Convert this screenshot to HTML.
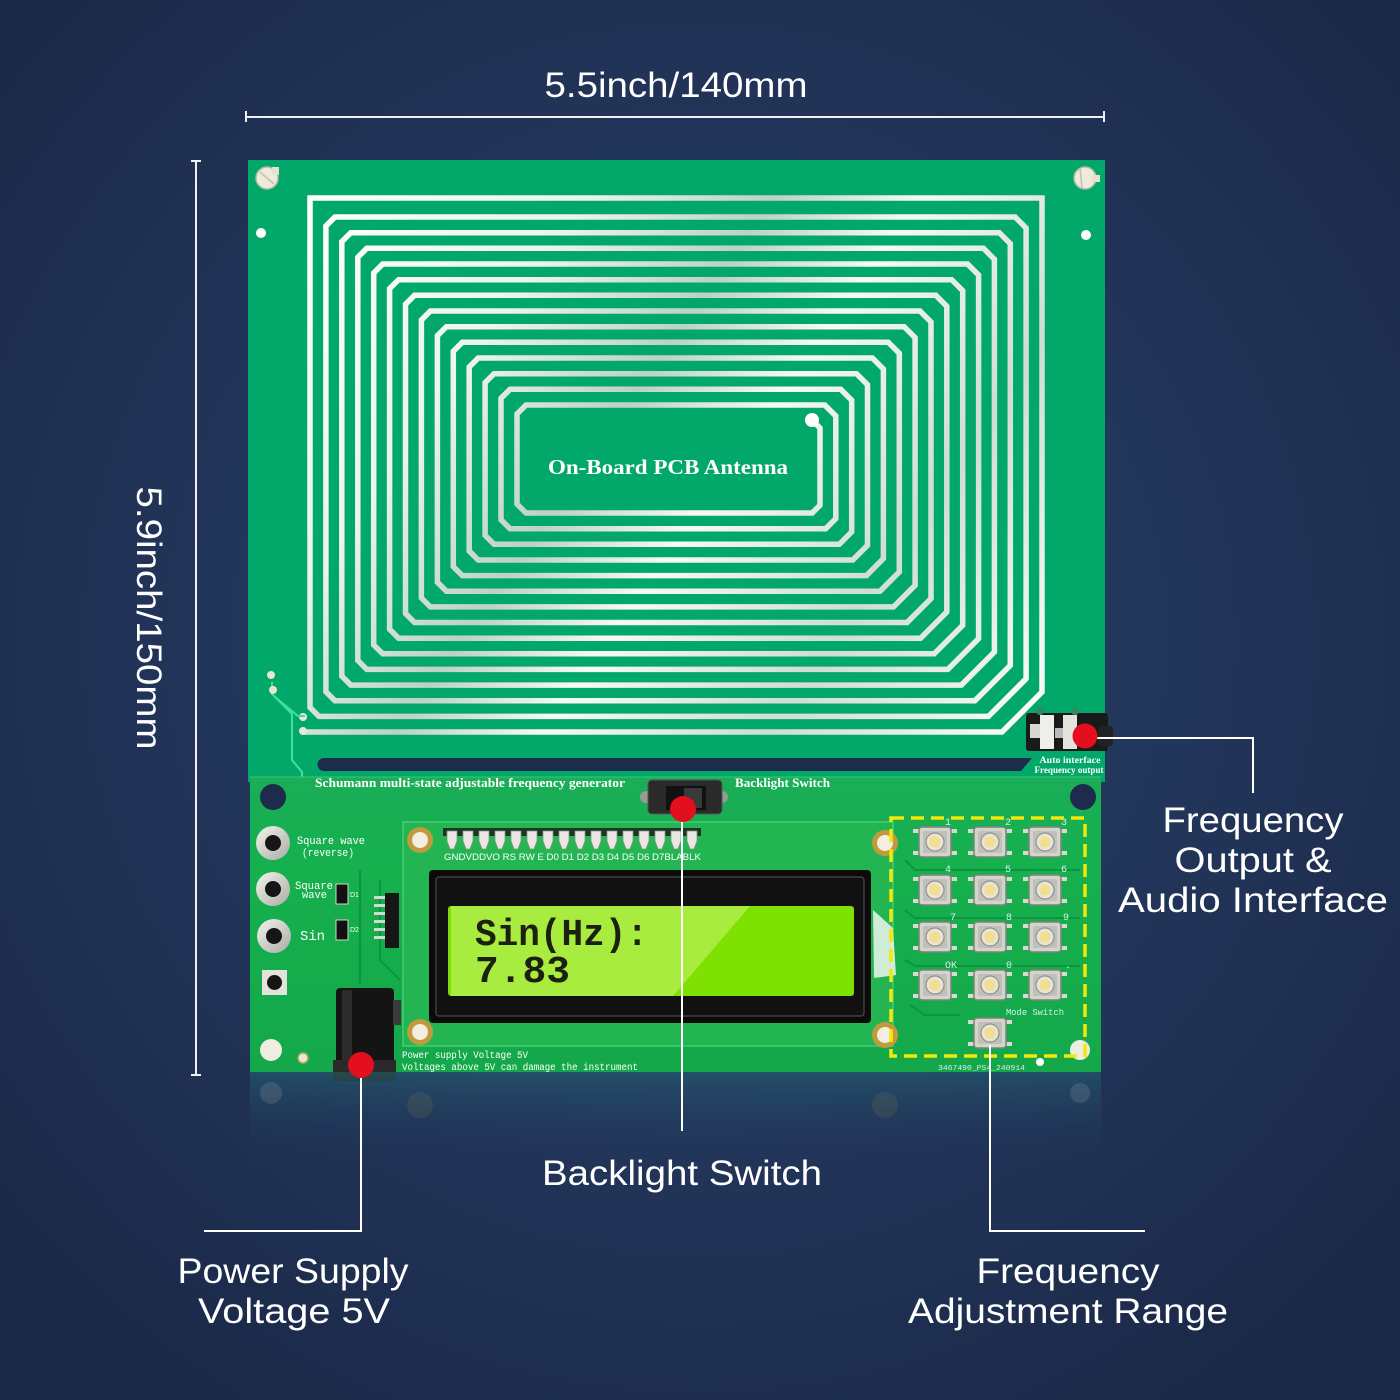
<!DOCTYPE html>
<html>
<head>
<meta charset="utf-8">
<style>
html,body{margin:0;padding:0;background:#1f2f51;}
svg{display:block;}
</style>
</head>
<body>
<svg width="1400" height="1400" viewBox="0 0 1400 1400" xmlns="http://www.w3.org/2000/svg">
<defs>
  <radialGradient id="bg" cx="700" cy="640" r="900" gradientUnits="userSpaceOnUse">
    <stop offset="0" stop-color="#2b4169"/>
    <stop offset="0.55" stop-color="#22355a"/>
    <stop offset="1" stop-color="#1b2948"/>
  </radialGradient>
  <linearGradient id="trace" x1="300" y1="200" x2="1050" y2="730" gradientUnits="userSpaceOnUse">
    <stop offset="0" stop-color="#ffffff"/>
    <stop offset="0.25" stop-color="#eef3ef"/>
    <stop offset="0.42" stop-color="#bcd2c6"/>
    <stop offset="0.55" stop-color="#f7f9f7"/>
    <stop offset="0.75" stop-color="#cfddd5"/>
    <stop offset="1" stop-color="#ffffff"/>
  </linearGradient>
  <linearGradient id="lowerpcb" x1="0" y1="776" x2="0" y2="1072" gradientUnits="userSpaceOnUse">
    <stop offset="0" stop-color="#1aae58"/>
    <stop offset="0.3" stop-color="#16b04e"/>
    <stop offset="1" stop-color="#14a84a"/>
  </linearGradient>
  <linearGradient id="refl" x1="0" y1="1072" x2="0" y2="1170" gradientUnits="userSpaceOnUse">
    <stop offset="0" stop-color="#23707a" stop-opacity="0.45"/>
    <stop offset="0.4" stop-color="#22506a" stop-opacity="0.28"/>
    <stop offset="1" stop-color="#22355a" stop-opacity="0"/>
  </linearGradient>
  <linearGradient id="jackring" x1="0" y1="0" x2="1" y2="1">
    <stop offset="0" stop-color="#f4f4ee"/>
    <stop offset="1" stop-color="#a9aba4"/>
  </linearGradient>
  <g id="btn">
    <rect x="-22" y="-13" width="8" height="4" fill="#d9d9d2"/>
    <rect x="14" y="-13" width="8" height="4" fill="#d9d9d2"/>
    <rect x="-22" y="9" width="8" height="4" fill="#d9d9d2"/>
    <rect x="14" y="9" width="8" height="4" fill="#d9d9d2"/>
    <rect x="-16" y="-15" width="32" height="30" rx="3" fill="#d3d4cc" stroke="#7e817b" stroke-width="1.5"/>
    <rect x="-12" y="-11" width="24" height="22" rx="2" fill="#bfc1b9"/>
    <circle cx="0" cy="0" r="9" fill="#e7e5d9" stroke="#8f918a" stroke-width="1.2"/>
    <circle cx="0" cy="0" r="5.5" fill="#f2de8e"/>
  </g>
  <g id="pin">
    <path d="M-5,0 L5,0 L5,10 L2,18 L-2,18 L-5,10 Z" fill="#e8e8e0" stroke="#8d8f88" stroke-width="0.8"/>
  </g>
</defs>

<!-- background -->
<rect x="0" y="0" width="1400" height="1400" fill="url(#bg)"/>

<!-- dimension lines -->
<g stroke="#eef0f4" stroke-width="2" fill="none">
  <line x1="246" y1="117" x2="1104" y2="117"/>
  <line x1="246" y1="111" x2="246" y2="122"/>
  <line x1="1104" y1="111" x2="1104" y2="122"/>
  <line x1="196" y1="161" x2="196" y2="1075"/>
  <line x1="191" y1="161" x2="201" y2="161"/>
  <line x1="191" y1="1075" x2="201" y2="1075"/>
</g>
<text x="676" y="97" text-anchor="middle" font-family="Liberation Sans, DejaVu Sans, sans-serif" font-size="35" fill="#ffffff" textLength="263" lengthAdjust="spacingAndGlyphs">5.5inch/140mm</text>
<text transform="translate(137,618) rotate(90)" text-anchor="middle" font-family="Liberation Sans, DejaVu Sans, sans-serif" font-size="35" fill="#ffffff" textLength="263" lengthAdjust="spacingAndGlyphs">5.9inch/150mm</text>

<!-- top PCB -->
<rect x="248" y="160" width="857" height="622" fill="#02a86a"/>
<!-- screws & holes top -->
<circle cx="267" cy="178" r="11" fill="#ecebdc" stroke="#b9b8a6" stroke-width="1.5"/>
<rect x="272" y="167" width="7" height="8" fill="#e4e3d2"/>
<line x1="260" y1="172" x2="274" y2="184" stroke="#c4c3b0" stroke-width="1.5"/>
<circle cx="261" cy="233" r="5" fill="#ffffff"/>
<circle cx="1085" cy="178" r="11" fill="#ecebdc" stroke="#b9b8a6" stroke-width="1.5"/>
<rect x="1092" y="175" width="8" height="7" fill="#e4e3d2"/>
<line x1="1080" y1="168" x2="1082" y2="188" stroke="#c4c3b0" stroke-width="1.5"/>
<circle cx="1086" cy="235" r="5" fill="#ffffff"/>

<!-- antenna coil -->
<path fill="none" stroke="url(#trace)" stroke-width="5.5" stroke-linejoin="miter" d="
M303,732 L1002,732 L1042,692 L1042,198 L310,198 L310,707.4 L319,716.4
L988.4,716.4 L1026.1,678.7 L1026.1,228 L1015.1,217 L334.9,217 L325.9,226 L325.9,691.7 L334.9,700.7
L974.9,700.7 L1010.3,665.3 L1010.3,243.7 L999.3,232.7 L350.8,232.7 L341.8,241.7 L341.8,676.1 L350.8,685.1
L961.3,685.1 L994.4,652 L994.4,259.3 L983.4,248.3 L366.8,248.3 L357.8,257.3 L357.8,660.4 L366.8,669.4
L947.8,669.4 L978.6,638.6 L978.6,275 L967.6,264 L382.7,264 L373.7,273 L373.7,644.8 L382.7,653.8
L934.2,653.8 L962.7,625.3 L962.7,290.7 L951.7,279.7 L398.6,279.7 L389.6,288.7 L389.6,629.2 L398.6,638.2
L920.6,638.2 L946.8,612 L946.8,306.3 L935.8,295.3 L414.5,295.3 L405.5,304.3 L405.5,613.5 L414.5,622.5
L907.1,622.5 L931,598.6 L931,322 L920,311 L430.4,311 L421.4,320 L421.4,597.9 L430.4,606.9
L893.5,606.9 L915.1,585.3 L915.1,337.7 L904.1,326.7 L446.4,326.7 L437.4,335.7 L437.4,582.2 L446.4,591.2
L880,591.2 L899.3,571.9 L899.3,353.3 L888.3,342.3 L462.3,342.3 L453.3,351.3 L453.3,566.6 L462.3,575.6
L866.4,575.6 L883.4,558.6 L883.4,369 L872.4,358 L478.2,358 L469.2,367 L469.2,551 L478.2,560
L852.8,560 L867.5,545.3 L867.5,384.7 L856.5,373.7 L494.1,373.7 L485.1,382.7 L485.1,535.3 L494.1,544.3
L839.3,544.3 L851.7,531.9 L851.7,400.3 L840.7,389.3 L510,389.3 L501,398.3 L501,519.7 L510,528.7
L825.7,528.7 L835.8,518.6 L835.8,416 L824.8,405 L526,405 L517,414 L517,504 L526,513
L812.2,513 L820,505.2 L820,428 L812,420"/>
<circle cx="812" cy="420" r="7" fill="#ffffff"/>
<circle cx="303" cy="717" r="4" fill="#e8e8d8"/>
<circle cx="303" cy="731" r="4" fill="#e8e8d8"/>

<text x="668" y="474" text-anchor="middle" font-family="Liberation Serif, serif" font-weight="bold" font-size="21" fill="#ffffff" textLength="240" lengthAdjust="spacingAndGlyphs">On-Board PCB Antenna</text>

<!-- left small traces -->
<g fill="none" stroke="#3fe09a" stroke-width="2">
  <polyline points="272,682 272,694 292,714 292,760 302,772 302,800"/>
  <polyline points="275,697 298,716 305,716"/>
</g>
<circle cx="271" cy="675" r="4" fill="#e8e6d0"/>
<circle cx="273" cy="690" r="4" fill="#e8e6d0"/>

<!-- navy slot -->
<path d="M324,758 L1032,758 L1021,771 L324,771 A6.5,6.5 0 0 1 324,758 Z" fill="#1d2c4c"/>

<!-- audio jack -->
<g>
  <rect x="1026" y="713" width="82" height="38" rx="3" fill="#1a1a1a"/>
  <rect x="1098" y="726" width="15" height="20" rx="3" fill="#222"/>
  <rect x="1040" y="715" width="14" height="34" fill="#eeeeea"/>
  <rect x="1063" y="715" width="14" height="34" fill="#e4e4de"/>
  <rect x="1030" y="724" width="10" height="14" fill="#d8d8d0"/>
  <rect x="1055" y="728" width="8" height="10" fill="#bbb"/>
  <circle cx="1040" cy="711" r="4" fill="#2f8b5e"/>
  <circle cx="1075" cy="711" r="4" fill="#2f8b5e"/>
</g>
<text x="1070" y="763" text-anchor="middle" font-family="Liberation Serif, serif" font-weight="bold" font-size="9.5" fill="#ffffff" textLength="61" lengthAdjust="spacingAndGlyphs">Auto interface</text>
<text x="1069" y="773" text-anchor="middle" font-family="Liberation Serif, serif" font-weight="bold" font-size="9.5" fill="#ffffff" textLength="69" lengthAdjust="spacingAndGlyphs">Frequency output</text>

<!-- lower PCB -->
<rect x="250" y="777" width="851" height="295" fill="url(#lowerpcb)"/>
<line x1="250" y1="777" x2="1101" y2="777" stroke="#3cc57a" stroke-width="1"/>
<circle cx="273" cy="797" r="13" fill="#1d2c4c"/>
<circle cx="1083" cy="797" r="13" fill="#1d2c4c"/>

<text x="315" y="787" font-family="Liberation Serif, serif" font-weight="bold" font-size="13" fill="#ffffff" textLength="310" lengthAdjust="spacingAndGlyphs">Schumann multi-state adjustable frequency generator</text>
<text x="735" y="787" font-family="Liberation Serif, serif" font-weight="bold" font-size="13" fill="#ffffff" textLength="95" lengthAdjust="spacingAndGlyphs">Backlight Switch</text>

<!-- traces on lower board -->
<g fill="none" stroke="#0c9540" stroke-width="2">
  <polyline points="745,837 860,837 878,855 878,866"/>
  <polyline points="745,845 855,845 870,860 870,868"/>
  <polyline points="380,880 380,960 400,980"/>
  <polyline points="360,870 360,985"/>
  <polyline points="905,860 915,870 1080,870"/>
  <polyline points="905,910 915,918 1080,918"/>
  <polyline points="905,960 915,966 1080,966"/>
  <polyline points="910,1005 925,1015 960,1015"/>
  <polyline points="730,1035 860,1035 875,1025"/>
</g>

<!-- backlight switch -->
<g>
  <circle cx="646" cy="797" r="6" fill="#9a9a94"/>
  <circle cx="722" cy="797" r="6" fill="#9a9a94"/>
  <rect x="648" y="780" width="74" height="34" rx="4" fill="#2a2a2a" stroke="#555" stroke-width="1"/>
  <rect x="666" y="786" width="40" height="24" fill="#111"/>
  <rect x="684" y="788" width="18" height="20" fill="#3a3a3a"/>
</g>

<!-- LCD module PCB -->
<rect x="403" y="822" width="490" height="224" fill="#22b551" stroke="#48cc74" stroke-width="1.5"/>
<!-- mounting holes -->
<g>
  <circle cx="420" cy="840" r="13" fill="#c29a3e"/><circle cx="420" cy="840" r="8" fill="#f3eee0"/>
  <circle cx="420" cy="1032" r="13" fill="#c29a3e"/><circle cx="420" cy="1032" r="8" fill="#f3eee0"/>
  <circle cx="885" cy="843" r="13" fill="#c29a3e"/><circle cx="885" cy="843" r="8" fill="#f3eee0"/>
  <circle cx="885" cy="1035" r="13" fill="#c29a3e"/><circle cx="885" cy="1035" r="8" fill="#f3eee0"/>
</g>
<!-- pin header -->
<rect x="443" y="828" width="258" height="8" fill="#1c3524"/>
<g>
  <use href="#pin" x="452" y="831"/><use href="#pin" x="468" y="831"/><use href="#pin" x="484" y="831"/><use href="#pin" x="500" y="831"/>
  <use href="#pin" x="516" y="831"/><use href="#pin" x="532" y="831"/><use href="#pin" x="548" y="831"/><use href="#pin" x="564" y="831"/>
  <use href="#pin" x="580" y="831"/><use href="#pin" x="596" y="831"/><use href="#pin" x="612" y="831"/><use href="#pin" x="628" y="831"/>
  <use href="#pin" x="644" y="831"/><use href="#pin" x="660" y="831"/><use href="#pin" x="676" y="831"/><use href="#pin" x="692" y="831"/>
</g>
<text x="444" y="860" font-family="Liberation Sans, sans-serif" font-size="9" fill="#ffffff" textLength="257" lengthAdjust="spacingAndGlyphs">GNDVDDVO RS RW E D0 D1 D2 D3 D4 D5 D6 D7BLABLK</text>

<!-- LCD -->
<rect x="429" y="870" width="442" height="153" rx="4" fill="#0b0b0b"/>
<rect x="436" y="877" width="428" height="139" rx="3" fill="#111" stroke="#4a4a4a" stroke-width="1.2"/>
<rect x="448" y="906" width="406" height="90" rx="3" fill="#7fe102"/>
<polygon points="451,906 750,906 673,996 451,996" fill="#a7ec3e"/>
<text x="475" y="945" font-family="Liberation Mono, monospace" font-weight="bold" font-size="38" fill="#1c2010" textLength="173" lengthAdjust="spacingAndGlyphs">Sin(Hz):</text>
<text x="475" y="982" font-family="Liberation Mono, monospace" font-weight="bold" font-size="38" fill="#1c2010" textLength="95" lengthAdjust="spacingAndGlyphs">7.83</text>
<polygon points="873,910 893,928 896,975 874,978" fill="#eef4ee" opacity="0.85"/>

<!-- left jacks -->
<g>
  <circle cx="273" cy="843" r="17" fill="url(#jackring)"/><circle cx="273" cy="843" r="8" fill="#161616"/>
  <circle cx="273" cy="889" r="17" fill="url(#jackring)"/><circle cx="273" cy="889" r="8" fill="#161616"/>
  <circle cx="274" cy="936" r="17" fill="url(#jackring)"/><circle cx="274" cy="936" r="8" fill="#161616"/>
  <rect x="262" y="970" width="25" height="25" fill="#e3e3dc"/><circle cx="274.5" cy="982.5" r="7.5" fill="#161616"/>
</g>
<g font-family="Liberation Mono, monospace" fill="#ffffff">
  <text x="297" y="844" font-size="11" textLength="68" lengthAdjust="spacingAndGlyphs">Square wave</text>
  <text x="302" y="856" font-size="11" textLength="52" lengthAdjust="spacingAndGlyphs">(reverse)</text>
  <text x="295" y="889" font-size="11" textLength="38" lengthAdjust="spacingAndGlyphs">Square</text>
  <text x="302" y="898" font-size="11" textLength="25" lengthAdjust="spacingAndGlyphs">wave</text>
  <text x="300" y="940" font-size="14" textLength="25" lengthAdjust="spacingAndGlyphs">Sin</text>
</g>
<!-- small components -->
<rect x="336" y="884" width="12" height="20" fill="#111" stroke="#d8d8d0" stroke-width="1"/>
<rect x="336" y="920" width="12" height="20" fill="#111" stroke="#d8d8d0" stroke-width="1"/>
<text x="350" y="897" font-family="Liberation Sans, sans-serif" font-size="7" fill="#ffffff">D1</text>
<text x="350" y="932" font-family="Liberation Sans, sans-serif" font-size="7" fill="#ffffff">D2</text>
<rect x="385" y="893" width="14" height="55" fill="#161616"/>
<g fill="#d8d8d0">
  <rect x="374" y="896" width="11" height="3"/><rect x="374" y="904" width="11" height="3"/>
  <rect x="374" y="912" width="11" height="3"/><rect x="374" y="920" width="11" height="3"/>
  <rect x="374" y="928" width="11" height="3"/><rect x="374" y="936" width="11" height="3"/>
</g>

<!-- power jack -->
<g>
  <rect x="336" y="988" width="58" height="80" rx="4" fill="#141414"/>
  <rect x="342" y="990" width="10" height="70" fill="#2c2c2c"/>
  <rect x="333" y="1060" width="63" height="21" fill="#2a2a2a"/>
  <rect x="393" y="1000" width="8" height="25" fill="#3a3a3a"/>
</g>

<!-- bottom screws -->
<circle cx="271" cy="1050" r="11" fill="#eeede2"/>
<circle cx="303" cy="1058" r="5" fill="#e8e8d8" stroke="#b9a55a" stroke-width="1.5"/>
<circle cx="1080" cy="1050" r="10" fill="#eeede2"/>
<circle cx="1040" cy="1062" r="4" fill="#ffffff"/>

<text x="402" y="1058" font-family="Liberation Mono, monospace" font-size="10" fill="#ffffff" textLength="126" lengthAdjust="spacingAndGlyphs">Power supply Voltage 5V</text>
<text x="402" y="1070" font-family="Liberation Mono, monospace" font-size="10" fill="#ffffff" textLength="236" lengthAdjust="spacingAndGlyphs">Voltages above 5V can damage the instrument</text>
<text x="938" y="1070" font-family="Liberation Mono, monospace" font-size="7" fill="#d8f0e8" textLength="87" lengthAdjust="spacingAndGlyphs">3467490_PS4_240914</text>

<!-- keypad -->
<g>
  <use href="#btn" x="935" y="842"/><use href="#btn" x="990" y="842"/><use href="#btn" x="1045" y="842"/>
  <use href="#btn" x="935" y="890"/><use href="#btn" x="990" y="890"/><use href="#btn" x="1045" y="890"/>
  <use href="#btn" x="935" y="937"/><use href="#btn" x="990" y="937"/><use href="#btn" x="1045" y="937"/>
  <use href="#btn" x="935" y="985"/><use href="#btn" x="990" y="985"/><use href="#btn" x="1045" y="985"/>
  <use href="#btn" x="990" y="1033"/>
</g>
<g font-family="Liberation Mono, monospace" font-size="10" fill="#d8f0e8">
  <text x="945" y="825">1</text><text x="1005" y="825">2</text><text x="1061" y="825">3</text>
  <text x="945" y="872">4</text><text x="1005" y="872">5</text><text x="1061" y="872">6</text>
  <text x="950" y="920">7</text><text x="1006" y="920">8</text><text x="1063" y="920">9</text>
  <text x="945" y="968">OK</text><text x="1006" y="968">0</text><text x="1065" y="968">.</text>
  <text x="1006" y="1015" font-size="9" textLength="58" lengthAdjust="spacingAndGlyphs">Mode Switch</text>
</g>
<rect x="891" y="818" width="194" height="238" fill="none" stroke="#f3e80a" stroke-width="3.5" stroke-dasharray="13,7"/>

<!-- reflection -->
<rect x="250" y="1072" width="851" height="98" fill="url(#refl)"/>
<g opacity="0.12">
  <circle cx="420" cy="1105" r="13" fill="#c29a3e"/>
  <circle cx="885" cy="1105" r="13" fill="#c29a3e"/>
  <circle cx="271" cy="1093" r="11" fill="#eeede2"/>
  <circle cx="1080" cy="1093" r="10" fill="#eeede2"/>
</g>

<!-- connectors -->
<g stroke="#ffffff" stroke-width="2" fill="none">
  <polyline points="1090,738 1253,738 1253,793"/>
  <line x1="682" y1="809" x2="682" y2="1131"/>
  <polyline points="361,1066 361,1231 204,1231"/>
  <polyline points="990,1045 990,1231 1145,1231"/>
</g>
<!-- red dots -->
<g fill="#e30f1f">
  <circle cx="1085" cy="736" r="12.5"/>
  <circle cx="683" cy="809" r="13"/>
  <circle cx="361" cy="1065" r="13"/>
</g>

<!-- labels -->
<g font-family="Liberation Sans, DejaVu Sans, sans-serif" font-size="35" fill="#ffffff" text-anchor="middle">
  <text x="1253" y="832" textLength="181" lengthAdjust="spacingAndGlyphs">Frequency</text>
  <text x="1253" y="872" textLength="157" lengthAdjust="spacingAndGlyphs">Output &amp;</text>
  <text x="1253" y="912" textLength="270" lengthAdjust="spacingAndGlyphs">Audio Interface</text>
  <text x="682" y="1185" textLength="280" lengthAdjust="spacingAndGlyphs">Backlight Switch</text>
  <text x="293" y="1283" textLength="231" lengthAdjust="spacingAndGlyphs">Power Supply</text>
  <text x="294" y="1323" textLength="192" lengthAdjust="spacingAndGlyphs">Voltage 5V</text>
  <text x="1068" y="1283" textLength="183" lengthAdjust="spacingAndGlyphs">Frequency</text>
  <text x="1068" y="1323" textLength="320" lengthAdjust="spacingAndGlyphs">Adjustment Range</text>
</g>
</svg>
</body>
</html>
